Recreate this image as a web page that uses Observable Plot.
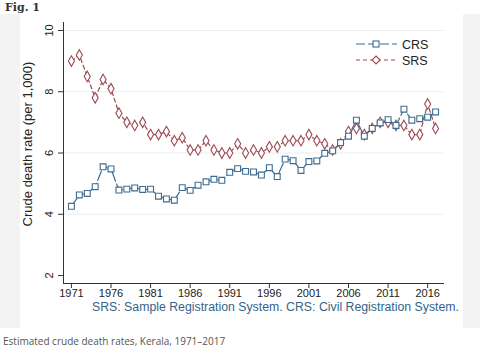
<!DOCTYPE html>
<html><head><meta charset="utf-8">
<script src="https://cdn.jsdelivr.net/npm/d3@7"></script>
<script src="https://cdn.jsdelivr.net/npm/@observablehq/plot@0.6"></script>
<style>
body{margin:0;background:#fff;width:480px;height:353px;position:relative;overflow:hidden;font-family:"Liberation Sans",Arial,sans-serif}
#fig{position:absolute;left:5px;top:1px;font:bold 11px "DejaVu Serif",Georgia,serif;color:#333}
#band{position:absolute;left:0;top:14px;width:480px;height:314px;background:#f3f3f3}
#box{position:absolute;left:20px;top:14px;width:443px;height:314px;background:#fff}
#chart{position:absolute;left:20px;top:15px}
#note{position:absolute;left:92px;top:300px;font-size:12.3px;color:#34648b;white-space:nowrap}
#legend{position:absolute;left:354px;top:36px}
#caption{position:absolute;left:3px;top:334px;font:10px "Open Sans",sans-serif;color:#555;white-space:nowrap}
</style></head><body>
<div id="fig">Fig. 1</div>
<div id="band"></div>
<div id="box"></div>
<div id="chart"></div>
<div id="legend"></div>
<div id="note">SRS: Sample Registration System. CRS: Civil Registration System.</div>
<div id="caption">Estimated crude death rates, Kerala, 1971–2017</div>
<script>
const years = d3.range(1971, 2018);
const crs = [4.26,4.63,4.68,4.9,5.55,5.48,4.79,4.82,4.86,4.81,4.82,4.59,4.5,4.46,4.87,4.78,4.95,5.06,5.14,5.11,5.37,5.49,5.4,5.38,5.28,5.52,5.23,5.8,5.75,5.43,5.72,5.74,5.99,6.07,6.34,6.55,7.07,6.55,6.8,6.98,7.09,6.9,7.43,7.07,7.12,7.17,7.34];
const srs = [9.0,9.2,8.5,7.8,8.4,8.1,7.3,7.0,6.9,7.0,6.6,6.6,6.7,6.4,6.5,6.1,6.1,6.4,6.1,6.0,6.0,6.3,6.0,6.1,6.0,6.2,6.2,6.4,6.4,6.4,6.6,6.4,6.3,6.1,6.3,6.7,6.8,6.6,6.8,7.0,7.0,6.9,6.9,6.6,6.6,7.6,6.8];
const xTicks = [1971,1976,1981,1986,1991,1996,2001,2006,2011,2016];
const yTicks = [2,4,6,8,10];
const seriesNames = ["CRS","SRS"];
const colors = {CRS:"#3e6b8f", SRS:"#9e4a50"};

const rows = years.map((y,i)=>({year:y, crs:crs[i], srs:srs[i]}));

const chart = Plot.plot({
  width: 443, height: 300,
  marginLeft: 43, marginRight: 20, marginTop: 7, marginBottom: 32,
  x: {domain:[1970,2018], axis:null},
  y: {domain:[1.74,10.26], axis:null},
  style: {fontFamily:"Liberation Sans, Arial, sans-serif", fontSize:"11px", color:"#222", background:"transparent", overflow:"visible"},
  marks: [
    Plot.gridY(yTicks.filter(d=>d>2), {stroke:"#e6eef1", strokeOpacity:1, strokeWidth:1}),
    Plot.axisX({ticks: xTicks, tickSize:5, tickPadding:1, tickFormat: d=>String(d), label:null, stroke:"#333"}),
    Plot.axisY({ticks: yTicks, tickSize:5, tickFormat: ()=>"", label:null, stroke:"#333"}),
    Plot.text(yTicks, {y: d=>d, text: d=>String(d), frameAnchor:"left", textAnchor:"middle", dx:-14, rotate:-90, fill:"#222"}),
    Plot.text(["Crude death rate (per 1,000)"], {text: d=>d, frameAnchor:"left", textAnchor:"middle", dx:-36, dy:-9, rotate:-90, fontSize:13, fill:"#222"}),
    Plot.frame({anchor:"left", stroke:"#333"}),
    Plot.frame({anchor:"bottom", stroke:"#333"}),
    Plot.line(rows, {x:"year", y:"srs", stroke:colors.SRS, strokeWidth:1.2, strokeDasharray:"4,3"}),
    Plot.dot(rows, {x:"year", y:"srs", symbol:"diamond", r:3.2, stroke:colors.SRS, fill:"white", strokeWidth:1.1}),
    Plot.line(rows, {x:"year", y:"crs", stroke:colors.CRS, strokeWidth:1.2, strokeDasharray:"10,3"}),
    Plot.dot(rows, {x:"year", y:"crs", symbol:"square", r:3.3, stroke:colors.CRS, fill:"white", strokeWidth:1.1})
  ]
});
document.getElementById("chart").appendChild(chart);

// legend
const lg = d3.select("#legend").append("svg").attr("width",90).attr("height",34)
  .style("font-family","Liberation Sans, Arial, sans-serif").style("font-size","12.5px");
seriesNames.forEach((name,i)=>{
  const yy = 8 + i*16;
  const g = lg.append("g");
  g.append("line").attr("x1",2).attr("x2",43).attr("y1",yy).attr("y2",yy)
    .attr("stroke",colors[name]).attr("stroke-width",1.2)
    .attr("stroke-dasharray", name==="CRS" ? "9,3" : "4,3");
  if (name==="CRS") g.append("rect").attr("x",19).attr("y",yy-3).attr("width",6).attr("height",6)
      .attr("fill","white").attr("stroke",colors[name]).attr("stroke-width",1.1);
  else g.append("path").attr("d",`M22,${yy-4}L26,${yy}L22,${yy+4}L18,${yy}Z`)
      .attr("fill","white").attr("stroke",colors[name]).attr("stroke-width",1.1);
  g.append("text").attr("x",48).attr("y",yy+4.5).attr("fill","#222").text(name);
});
</script>
</body></html>
